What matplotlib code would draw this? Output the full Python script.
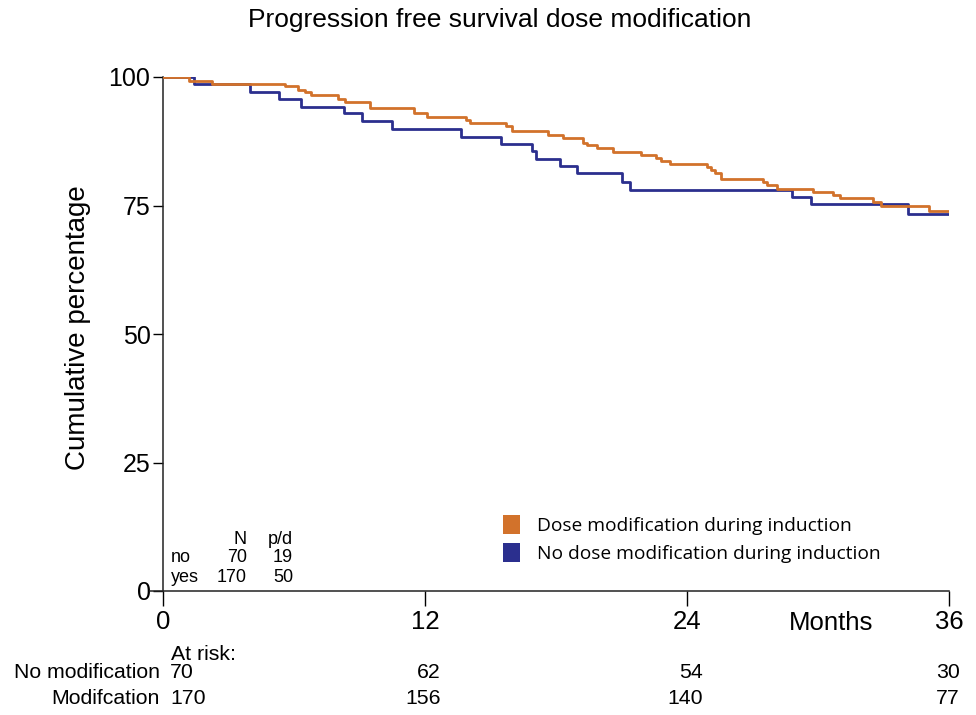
import matplotlib
matplotlib.use("Agg")
import matplotlib.pyplot as plt
import matplotlib.transforms as mtransforms
from matplotlib.patches import Patch

# ---- data ----
mod_times = [0, 1.2, 2.23, 5.6, 6.2, 6.5, 6.8, 8.0, 8.35, 9.5, 11.5, 12.1, 13.9, 14.05,
             15.7, 16.0, 17.65, 18.3, 19.25, 19.4, 19.9, 20.6, 21.9, 22.6, 22.8, 23.2,
             24.9, 25.1, 25.3, 25.55, 27.5, 27.65, 28.1, 29.75, 30.7, 31.0, 32.5, 32.9,
             35.1, 36.0]
mod_surv = [100, 99.3, 98.7, 98.2, 97.5, 97.0, 96.5, 95.8, 95.2, 94.0, 92.9, 92.3, 91.6, 91.1,
            90.5, 89.4, 88.7, 88.1, 87.1, 86.7, 86.1, 85.4, 84.9, 84.2, 83.6, 83.1,
            82.5, 82.0, 81.4, 80.2, 79.6, 79.0, 78.3, 77.7, 77.0, 76.4, 75.7, 74.9,
            74.0, 74.0]

nomod_times = [0, 1.4, 4.0, 5.3, 6.3, 8.3, 9.1, 10.5, 13.65, 15.5, 16.9, 17.1, 18.2,
               18.95, 21.0, 21.4, 28.8, 29.7, 34.1, 36.0]
nomod_surv = [100, 98.6, 97.1, 95.7, 94.2, 92.9, 91.4, 89.9, 88.4, 87.0, 85.6, 84.1, 82.7,
              81.3, 79.6, 78.1, 76.6, 75.2, 73.3, 73.3]

series_labels = ["Dose modification during induction", "No dose modification during induction"]
x_ticks = [0, 12, 24, 36]
y_ticks = [0, 25, 50, 75, 100]

risk_times = [0, 12, 24, 36]
risk_nomod = [70, 62, 54, 30]
risk_mod = [170, 156, 140, 77]
risk_row_labels = ["No modification", "Modifcation"]

table_rows = ["no", "yes"]
table_N = [70, 170]
table_pd = [19, 50]

ORANGE = "#D2722B"
BLUE = "#2B2F8E"
FONT = "Liberation Sans"

plt.rcParams['font.family'] = [FONT, 'DejaVu Sans']

fig = plt.figure(figsize=(9.76, 7.15), dpi=100)
ax = fig.add_axes([163/976, 1-591/715, (949-163)/976, (591-77)/715])

ax.step(mod_times, mod_surv, where='post', color=ORANGE, lw=2.0, zorder=3)
ax.step(nomod_times, nomod_surv, where='post', color=BLUE, lw=2.0, zorder=2)

ax.set_xlim(0, 36)
ax.set_ylim(0, 100)
ax.set_xticks(x_ticks)
ax.set_yticks(y_ticks)
ax.tick_params(axis='y', length=7, width=1, pad=2, labelsize=18)
ax.tick_params(axis='x', length=11, width=1, pad=3, labelsize=18.5)
for s in ['top', 'right']:
    ax.spines[s].set_visible(False)
for s in ['left', 'bottom']:
    ax.spines[s].set_linewidth(1.1)
    ax.spines[s].set_color('#222222')
ax.spines['bottom'].set_bounds(-0.6, 36)

ax.set_ylabel("Cumulative percentage", fontsize=20)
ax.yaxis.set_label_coords((91-163)/(949-163), (591-328)/(591-77))
fig.text(500/976, 1-20/715, "Progression free survival dose modification",
         ha='center', va='center', fontsize=19)
fig.text(831/976, 1-623/715, "Months", ha='center', va='center', fontsize=18.5)

# N / p/d table
tfs = 13
fig.text(247/976, 1-540/715, "N", ha='right', va='center', fontsize=tfs)
fig.text(293/976, 1-540/715, "p/d", ha='right', va='center', fontsize=tfs)
for i, (r, n, pd_) in enumerate(zip(table_rows, table_N, table_pd)):
    yy = 1 - (558 + 19*i)/715
    fig.text(171/976, yy, r, ha='left', va='center', fontsize=tfs)
    fig.text(247/976, yy, str(n), ha='right', va='center', fontsize=tfs)
    fig.text(293/976, yy, str(pd_), ha='right', va='center', fontsize=tfs)

# legend
leg = ax.legend(handles=[Patch(facecolor=ORANGE, edgecolor='none'),
                         Patch(facecolor=BLUE, edgecolor='none')],
                labels=series_labels, loc='upper left',
                bbox_to_anchor=((503-163)/(949-163), (591-515)/(591-77)),
                frameon=False, prop={'family': ['Open Sans', 'DejaVu Sans'], 'size': 13.8},
                handlelength=0.9, handleheight=1.15, handletextpad=0.85,
                labelspacing=0.42, borderpad=0.0, borderaxespad=0.0)

# numbers at risk
rfs = 15.3
fig.text(171/976, 1-655/715, "At risk:", ha='left', va='center', fontsize=rfs)
for j, (lab, vals) in enumerate(zip(risk_row_labels, [risk_nomod, risk_mod])):
    yy = 1 - (673 + 25*j)/715
    fig.text(160/976, yy, lab, ha='right', va='center', fontsize=rfs)
    for t, v in zip(risk_times, vals):
        if t == 0:
            tr = mtransforms.offset_copy(ax.transData, fig=fig, x=7, y=0, units='dots')
            ha = 'left'
        else:
            off = 16 if t < 36 else 11
            tr = mtransforms.offset_copy(ax.transData, fig=fig, x=off, y=0, units='dots')
            ha = 'right'
        yd = (591 - (673 + 25*j)) / (591-77) * 100
        ax.text(t, yd, str(v), ha=ha, va='center', fontsize=rfs, transform=tr, clip_on=False)

fig.savefig("out.png", dpi=100)
